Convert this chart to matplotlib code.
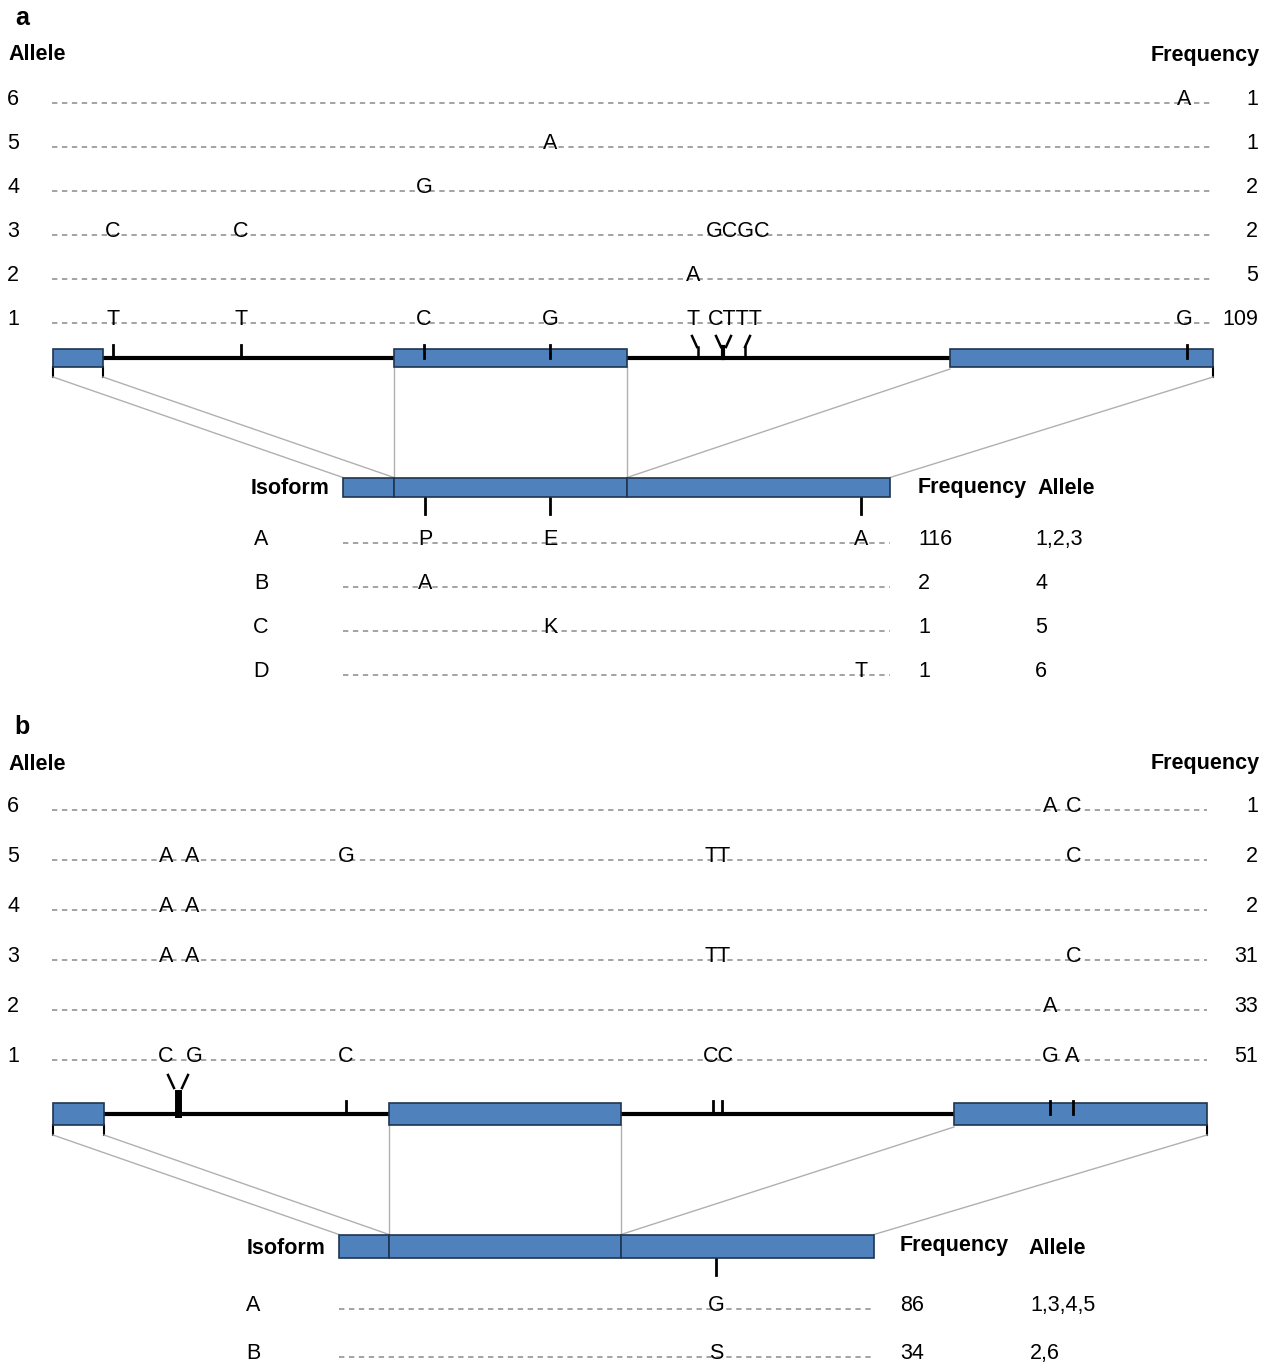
import matplotlib
matplotlib.use('Agg')
import matplotlib.pyplot as plt
from matplotlib.patches import Rectangle

plt.rcParams['font.family'] = ['Liberation Sans', 'DejaVu Sans']

""" Data """
# panel a: genomic alleles (rows from top: allele 6 .. 1)
a_allele_ids = ['6', '5', '4', '3', '2', '1']
a_allele_freq = ['1', '1', '2', '2', '5', '109']
a_allele_letters = [
    [(1184, 'A')],
    [(550, 'A')],
    [(424, 'G')],
    [(113, 'C'), (241, 'C'), (738, 'GCGC')],
    [(693, 'A')],
    [(113, 'T'), (241, 'T'), (424, 'C'), (550, 'G'), (693, 'T'), (735, 'CTTT'), (1184, 'G')],
]
a_exons = [(53, 103), (394, 627), (950, 1213)]
a_snp_pos = [113, 241, 424, 550, 1187]
a_isoform_ids = ['A', 'B', 'C', 'D']
a_isoform_freq = ['116', '2', '1', '1']
a_isoform_alleles = ['1,2,3', '4', '5', '6']
a_isoform_letters = [
    [(425, 'P'), (550, 'E'), (861, 'A')],
    [(425, 'A')],
    [(550, 'K')],
    [(861, 'T')],
]
a_iso_segments = [343, 394, 627, 890]
a_iso_snp_pos = [425, 550, 861]

# panel b
b_allele_ids = ['6', '5', '4', '3', '2', '1']
b_allele_freq = ['1', '2', '2', '31', '33', '51']
b_allele_letters = [
    [(1050, 'A'), (1074, 'C')],
    [(166, 'A'), (192, 'A'), (346, 'G'), (718, 'TT'), (1074, 'C')],
    [(166, 'A'), (192, 'A')],
    [(166, 'A'), (192, 'A'), (718, 'TT'), (1074, 'C')],
    [(1050, 'A')],
    [(166, 'C'), (194, 'G'), (346, 'C'), (718, 'CC'), (1050, 'G'), (1072, 'A')],
]
b_exons = [(53, 104), (389, 621), (954, 1207)]
b_snp_pos = [346, 713, 722, 1050, 1073]
b_isoform_ids = ['A', 'B']
b_isoform_freq = ['86', '34']
b_isoform_alleles = ['1,3,4,5', '2,6']
b_isoform_letters = [[(716, 'G')], [(716, 'S')]]
b_iso_segments = [339, 389, 621, 874]
b_iso_snp_pos = [716]

EXON = '#4f81bd'
EDGE = '#1f3550'
FS = 15.5
BFS = 15.5

fig = plt.figure(figsize=(12.7, 13.66), dpi=100)
ax = fig.add_axes([0, 0, 1, 1])
ax.set_xlim(0, 1270)
ax.set_ylim(1366, 0)
ax.axis('off')


def dashed(x0, x1, y):
    ax.plot([x0, x1], [y, y], color='#8a8a8a', lw=1.1, dashes=(3.5, 3))


def rows(ids, freqs, letters, ys, x0, x1, freq_x):
    for i, y in enumerate(ys):
        ax.text(13, y + 2, ids[i], fontsize=FS, ha='center', va='baseline')
        dashed(x0, x1, y)
        for x, s in letters[i]:
            ax.text(x, y + 2, s, fontsize=FS, ha='center', va='baseline')
        ax.text(freq_x, y + 2, freqs[i], fontsize=FS, ha='right', va='baseline')


def gene(exons, y, h, intron_end):
    ax.plot([exons[0][1], intron_end], [y, y], color='black', lw=3, zorder=2)
    for e0, e1 in exons:
        ax.add_patch(Rectangle((e0, y - h / 2), e1 - e0, h, facecolor=EXON,
                               edgecolor=EDGE, lw=1.2, zorder=3))


def panel(label, y_top, ids, freqs, letters, row_ys, line_end, exons, gy, gh,
          snps, iso_ids, iso_freq, iso_alle, iso_letters, iso_seg, iso_snps,
          iy, ih, iso_ys, iso_label_x, freq_head_x, alle_head_x, freq_x, alle_x, iso_id_x):
    ax.text(22, y_top, label, fontsize=18, fontweight='bold', ha='center', va='center')
    ax.text(8, y_top + 37, 'Allele', fontsize=BFS, fontweight='bold', ha='left', va='center')
    ax.text(1260, y_top + 37, 'Frequency', fontsize=BFS, fontweight='bold', ha='right', va='center')
    rows(ids, freqs, letters, row_ys, 52, line_end, 1258)

    gene(exons, gy, gh, exons[2][0])
    bot = gy + gh / 2
    for x in snps:
        ax.plot([x, x], [gy - 13, gy], color='black', lw=2, zorder=4)
    for x in [exons[0][0], exons[0][1], exons[2][1]]:
        ax.plot([x, x], [bot, bot + 10], color='black', lw=1.5)

    # projection lines to isoform
    gc = '#b0b0b0'
    ax.plot([exons[0][0], iso_seg[0]], [bot + 10, iy - ih / 2], color=gc, lw=1)
    ax.plot([exons[0][1], iso_seg[1]], [bot + 10, iy - ih / 2], color=gc, lw=1)
    ax.plot([exons[1][0], iso_seg[1]], [bot, iy - ih / 2], color=gc, lw=1)
    ax.plot([exons[1][1], iso_seg[2]], [bot, iy - ih / 2], color=gc, lw=1)
    ax.plot([exons[2][0], iso_seg[2]], [bot + 2, iy - ih / 2], color=gc, lw=1)
    ax.plot([exons[2][1], iso_seg[3]], [bot + 10, iy - ih / 2], color=gc, lw=1)

    # isoform
    for s0, s1 in zip(iso_seg[:-1], iso_seg[1:]):
        ax.add_patch(Rectangle((s0, iy - ih / 2), s1 - s0, ih, facecolor=EXON,
                               edgecolor=EDGE, lw=1.2, zorder=3))
    for x in iso_snps:
        ax.plot([x, x], [iy + ih / 2, iy + ih / 2 + 17], color='black', lw=2)
    ax.text(iso_label_x, iy + 2, 'Isoform', fontsize=BFS, fontweight='bold', ha='left', va='center')
    ax.text(freq_head_x, iy, 'Frequency', fontsize=BFS, fontweight='bold', ha='left', va='center')
    ax.text(alle_head_x, iy + 2, 'Allele', fontsize=BFS, fontweight='bold', ha='left', va='center')
    for i, y in enumerate(iso_ys):
        ax.text(iso_id_x, y + 2, iso_ids[i], fontsize=FS, ha='center', va='baseline')
        dashed(iso_seg[0], iso_seg[3], y)
        for x, s in iso_letters[i]:
            ax.text(x, y + 2, s, fontsize=FS, ha='center', va='baseline')
        ax.text(freq_x, y + 2, iso_freq[i], fontsize=FS, ha='left', va='baseline')
        ax.text(alle_x, y + 2, iso_alle[i], fontsize=FS, ha='left', va='baseline')


# panel a
panel('a', 18, a_allele_ids, a_allele_freq, a_allele_letters,
      [103, 147, 191, 235, 279, 323], 1213, a_exons, 358, 18, a_snp_pos,
      a_isoform_ids, a_isoform_freq, a_isoform_alleles, a_isoform_letters,
      a_iso_segments, a_iso_snp_pos, 487, 19, [543, 587, 631, 675],
      251, 918, 1037, 918, 1035, 261)
# indel marks in panel a
for x0, x1 in [(692, 697), (716, 721), (731, 726), (750, 745)]:
    ax.plot([x0, x1], [336, 347], color='black', lw=1.8)
for x, w in [(698, 1.8), (723, 3), (745, 1.8)]:
    ax.plot([x, x], [347, 358], color='black', lw=w)

# panel b
panel('b', 727, b_allele_ids, b_allele_freq, b_allele_letters,
      [810, 860, 910, 960, 1010, 1060], 1207, b_exons, 1114, 22, b_snp_pos,
      b_isoform_ids, b_isoform_freq, b_isoform_alleles, b_isoform_letters,
      b_iso_segments, b_iso_snp_pos, 1246, 23, [1309, 1357],
      247, 900, 1028, 900, 1030, 253)
for x0, x1 in [(168, 174), (188, 182)]:
    ax.plot([x0, x1], [1075, 1088], color='black', lw=1.8)
ax.plot([178, 178], [1093, 1114], color='black', lw=5)

fig.savefig('out.png', dpi=100)
